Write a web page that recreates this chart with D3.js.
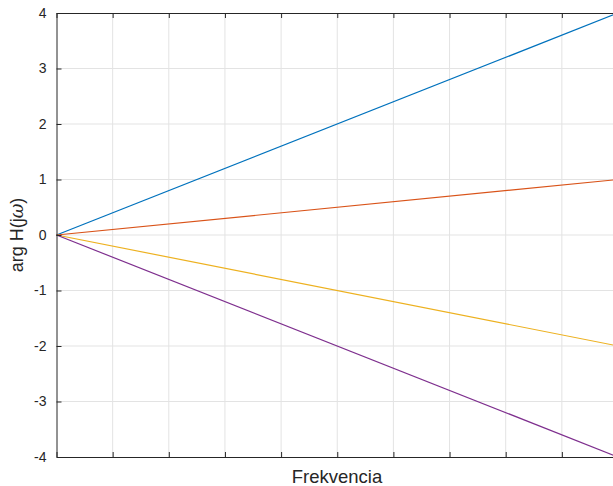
<!DOCTYPE html>
<html>
<head>
<meta charset="utf-8">
<script src="https://cdn.jsdelivr.net/npm/d3@7"></script>
<style>
  body { margin: 0; background: #fff; }
  svg { display: block; }
  text { font-family: "Liberation Sans", Arial, sans-serif; fill: #262626; }
</style>
</head>
<body>
<div id="chart"></div>
<script>
// data
const xTicks = [0, 1, 2, 3, 4, 5, 6, 7, 8, 9, 10];
const yTicks = [-4, -3, -2, -1, 0, 1, 2, 3, 4];
const xDomain = [0, 10];
const seriesNames = ["s1", "s2", "s3", "s4"];
const seriesColors = ["#0072BD", "#D95319", "#EDB120", "#7E2F8E"];
const seriesStart = [0, 0, 0, 0];
const seriesEnd = [4, 1, -2, -4];

const W = 613, H = 486;
const margin = { top: 13, right: -5, bottom: 29, left: 56.5 };

const svg = d3.select("#chart").append("svg")
  .attr("width", W).attr("height", H);

const x = d3.scaleLinear().domain(xDomain).range([margin.left, W - margin.right]);
const y = d3.scaleLinear().domain([-4, 4]).range([H - margin.bottom, margin.top]);

// grid
const grid = svg.append("g").attr("stroke", "#e3e3e3").attr("stroke-width", 1);
grid.selectAll(".gx").data(xTicks.slice(1, -1)).enter().append("line")
  .attr("x1", d => x(d)).attr("x2", d => x(d))
  .attr("y1", y(-4)).attr("y2", y(4));
grid.selectAll(".gy").data(yTicks.slice(1, -1)).enter().append("line")
  .attr("x1", x(0)).attr("x2", x(10))
  .attr("y1", d => y(d)).attr("y2", d => y(d));

// lines
const lineGen = d3.line().x(d => x(d[0])).y(d => y(d[1]));
seriesNames.forEach((n, i) => {
  svg.append("path")
    .datum([[xDomain[0], seriesStart[i]], [xDomain[1], seriesEnd[i]]])
    .attr("d", lineGen)
    .attr("fill", "none")
    .attr("stroke", seriesColors[i])
    .attr("stroke-width", 1.2);
});

// axes (box with inward ticks)
const tickLen = 5;
const axisG = svg.append("g");

const yAxis = d3.axisLeft(y).tickValues(yTicks).tickSizeInner(-tickLen).tickSizeOuter(0)
  .tickPadding(10).tickFormat(d => String(d));
axisG.append("g").attr("transform", `translate(${x(0)},0)`).call(yAxis)
  .call(g => g.select(".domain").attr("stroke", "#262626"))
  .call(g => g.selectAll(".tick line").attr("stroke", "#262626"))
  .call(g => g.selectAll(".tick text").attr("font-size", 14).attr("fill", "#262626")
    .attr("font-family", "Liberation Sans, Arial, sans-serif"));

const yAxisR = d3.axisRight(y).tickValues(yTicks).tickSizeInner(-tickLen).tickSizeOuter(0).tickFormat("");
axisG.append("g").attr("transform", `translate(${x(10)},0)`).call(yAxisR)
  .call(g => g.select(".domain").attr("stroke", "#262626"))
  .call(g => g.selectAll(".tick line").attr("stroke", "#262626"));

const xAxis = d3.axisBottom(x).tickValues(xTicks).tickSizeInner(-tickLen).tickSizeOuter(0).tickFormat("");
axisG.append("g").attr("transform", `translate(0,${y(-4)})`).call(xAxis)
  .call(g => g.select(".domain").attr("stroke", "#262626"))
  .call(g => g.selectAll(".tick line").attr("stroke", "#262626"));

const xAxisT = d3.axisTop(x).tickValues(xTicks).tickSizeInner(-tickLen).tickSizeOuter(0).tickFormat("");
axisG.append("g").attr("transform", `translate(0,${y(4)})`).call(xAxisT)
  .call(g => g.select(".domain").attr("stroke", "#262626"))
  .call(g => g.selectAll(".tick line").attr("stroke", "#262626"));

// labels
svg.append("text")
  .attr("x", 337).attr("y", 483)
  .attr("text-anchor", "middle").attr("font-size", 18.5)
  .text("Frekvencia");

const yl = svg.append("text")
  .attr("transform", `translate(23,${y(0)}) rotate(-90)`)
  .attr("text-anchor", "middle").attr("font-size", 18);
yl.append("tspan").text("arg H(j");
yl.append("tspan").attr("font-style", "italic").attr("font-family", "DejaVu Serif, serif").text("ω");
yl.append("tspan").text(")");
</script>
</body>
</html>
